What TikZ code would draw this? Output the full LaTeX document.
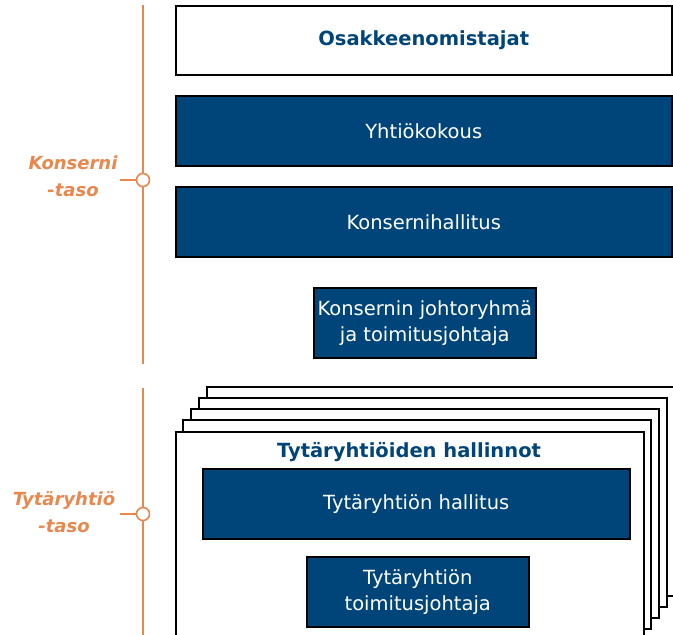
\documentclass[tikz,border=0pt]{standalone}
\usepackage{fontspec}
\setmainfont{DejaVu Sans}
\definecolor{navy}{HTML}{00457A}
\definecolor{orng}{HTML}{E8884F}
\begin{document}
\begin{tikzpicture}[x=1pt,y=-1pt,
  bluebox/.style={draw=black,line width=1.5pt,fill=navy,text=white,font=\fontsize{19.5}{26}\selectfont,align=center,inner sep=0pt},
  whitebox/.style={draw=black,line width=1.5pt,fill=white,text=navy,font=\fontsize{19.5}{26}\selectfont\bfseries,inner sep=0pt},
  page/.style={draw=black,line width=1.5pt,fill=white},
  lvl/.style={draw=orng,line width=1.6pt},
  lvldot/.style={circle,draw=orng,line width=1.6pt,fill=white,minimum size=13pt,inner sep=0pt},
  lvllabel/.style={text=orng,font=\fontsize{18}{27}\selectfont\bfseries\itshape,align=center}]
\useasboundingbox (0,0) rectangle (673,635);
% top level
\node[whitebox,minimum width=496pt,minimum height=69pt,anchor=north west] (osak) at (175,5) {Osakkeenomistajat};
\node[bluebox,minimum width=496pt,minimum height=70pt,anchor=north west] (yht) at (175,95) {Yhtiökokous};
\node[bluebox,minimum width=496pt,minimum height=70pt,anchor=north west] (kh) at (175,186) {Konsernihallitus};
\node[bluebox,minimum width=222pt,minimum height=70pt,anchor=north west] (kj) at (313,287) {Konsernin johtoryhmä\\ja toimitusjohtaja};
% stacked pages
\begin{scope}
\clip (0,0) rectangle (673,635);
\foreach \k in {4,3,2,1} {
  \draw[page] ({175+8*\k},{431-11*\k}) rectangle ({643+8*\k},{640-11*\k});
}
\node[page,anchor=north west,minimum width=468pt,minimum height=215pt,inner sep=0pt] (front) at (175,431) {};
\end{scope}
\node[text=navy,font=\fontsize{19.5}{26}\selectfont\bfseries] (tyh) at (409,452) {Tytäryhtiöiden hallinnot};
\node[bluebox,minimum width=427pt,minimum height=70pt,anchor=north west] (th) at (202,468) {Tytäryhtiön hallitus};
\node[bluebox,minimum width=222pt,minimum height=70pt,anchor=north west] (tt) at (306,556) {Tytäryhtiön\\toimitusjohtaja};
% levels
\coordinate (l1t) at (143,5);
\coordinate (l1b) at (143,364);
\node[lvldot] (d1) at (143,180) {};
\coordinate (t1) at (120,180);
\draw[lvl] (l1t) -- (d1.north);
\draw[lvl] (d1.south) -- (l1b);
\draw[lvl] (t1) -- (d1.west);
\node[lvllabel] (lab1) at (73,176) {Konserni\\-taso};
\coordinate (l2t) at (143,388);
\coordinate (l2b) at (143,635);
\node[lvldot] (d2) at (143,514) {};
\coordinate (t2) at (120,514);
\draw[lvl] (l2t) -- (d2.north);
\draw[lvl] (d2.south) -- (l2b);
\draw[lvl] (t2) -- (d2.west);
\node[lvllabel] (lab2) at (64,512) {Tytäryhtiö\\-taso};
\end{tikzpicture}
\end{document}
